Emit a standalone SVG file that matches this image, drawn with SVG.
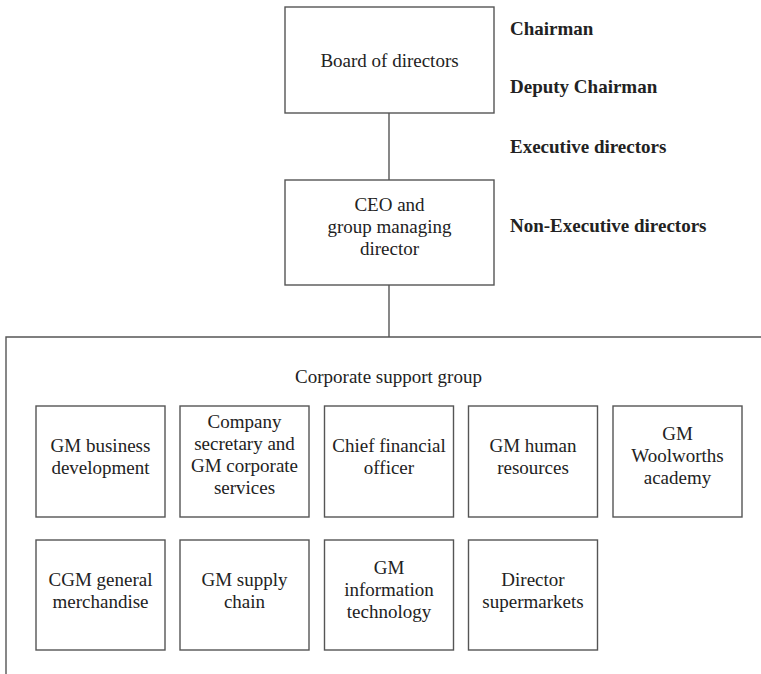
<svg xmlns="http://www.w3.org/2000/svg" width="761" height="674" viewBox="0 0 761 674">
  <style>
    .box { fill: #ffffff; stroke: #555555; stroke-width: 1.4; }
    .line { fill: none; stroke: #555555; stroke-width: 1.4; }
    text { font-family: "Liberation Serif", "Times New Roman", serif; font-size: 19px; fill: #222222; }
    .c { text-anchor: middle; }
    .b { font-weight: bold; }
  </style>
  <rect width="761" height="674" fill="#ffffff"/>

  <!-- connectors -->
  <g id="connectors">
    <line class="line" x1="389" y1="113" x2="389" y2="180"/>
    <line class="line" x1="389" y1="285" x2="389" y2="337"/>
  </g>

  <!-- governance -->
  <g id="board">
    <rect class="box" x="285" y="7" width="209" height="106"/>
    <text class="c" x="389.5" y="67">Board of directors</text>
  </g>
  <g id="ceo">
    <rect class="box" x="285" y="180" width="209" height="105"/>
    <text class="c" x="389.5" y="211">CEO and</text>
    <text class="c" x="389.5" y="233">group managing</text>
    <text class="c" x="389.5" y="255">director</text>
  </g>
  <g id="board-roles">
    <text class="b" x="510" y="35">Chairman</text>
    <text class="b" x="510" y="93">Deputy Chairman</text>
    <text class="b" x="510" y="153">Executive directors</text>
    <text class="b" x="510" y="232">Non-Executive directors</text>
  </g>

  <!-- corporate support group frame (open to the right and below) -->
  <g id="corporate-support-group">
    <path class="line" d="M761,337 H6 V674"/>
    <text class="c" x="388.5" y="383">Corporate support group</text>
  </g>

  <!-- first row -->
  <g id="gm-business-development">
    <rect class="box" x="36" y="406" width="129" height="111"/>
    <text class="c" x="100.5" y="452">GM business</text>
    <text class="c" x="100.5" y="474">development</text>
  </g>
  <g id="company-secretary">
    <rect class="box" x="180" y="406" width="129" height="111"/>
    <text class="c" x="244.5" y="428">Company</text>
    <text class="c" x="244.5" y="450">secretary and</text>
    <text class="c" x="244.5" y="472">GM corporate</text>
    <text class="c" x="244.5" y="494">services</text>
  </g>
  <g id="chief-financial-officer">
    <rect class="box" x="324.5" y="406" width="129" height="111"/>
    <text class="c" x="389" y="452">Chief financial</text>
    <text class="c" x="389" y="474">officer</text>
  </g>
  <g id="gm-human-resources">
    <rect class="box" x="468.5" y="406" width="129" height="111"/>
    <text class="c" x="533" y="452">GM human</text>
    <text class="c" x="533" y="474">resources</text>
  </g>
  <g id="gm-woolworths-academy">
    <rect class="box" x="613" y="406" width="129" height="111"/>
    <text class="c" x="677.5" y="440">GM</text>
    <text class="c" x="677.5" y="462">Woolworths</text>
    <text class="c" x="677.5" y="484">academy</text>
  </g>

  <!-- second row -->
  <g id="cgm-general-merchandise">
    <rect class="box" x="36" y="540" width="129" height="110"/>
    <text class="c" x="100.5" y="586">CGM general</text>
    <text class="c" x="100.5" y="608">merchandise</text>
  </g>
  <g id="gm-supply-chain">
    <rect class="box" x="180" y="540" width="129" height="110"/>
    <text class="c" x="244.5" y="586">GM supply</text>
    <text class="c" x="244.5" y="608">chain</text>
  </g>
  <g id="gm-information-technology">
    <rect class="box" x="324.5" y="540" width="129" height="110"/>
    <text class="c" x="389" y="574">GM</text>
    <text class="c" x="389" y="596">information</text>
    <text class="c" x="389" y="618">technology</text>
  </g>
  <g id="director-supermarkets">
    <rect class="box" x="468.5" y="540" width="129" height="110"/>
    <text class="c" x="533" y="586">Director</text>
    <text class="c" x="533" y="608">supermarkets</text>
  </g>
</svg>
